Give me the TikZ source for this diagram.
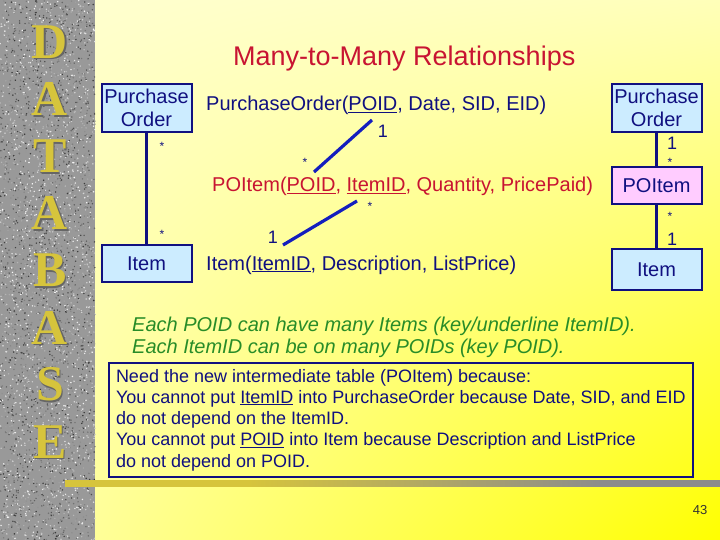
\documentclass[tikz,border=0pt]{standalone}
\usepackage{fontspec}
\setmainfont{Liberation Sans}
\newfontfamily\letterfont{Liberation Serif}
\usetikzlibrary{positioning,shadings}
\definecolor{navyText}{RGB}{16,16,128}
\definecolor{titleRed}{RGB}{200,20,50}
\definecolor{noteGreen}{RGB}{40,140,40}
\definecolor{boxBlue}{RGB}{204,236,255}
\definecolor{boxPink}{RGB}{255,204,255}
\definecolor{linkBlue}{RGB}{20,30,190}
\definecolor{goldLetter}{RGB}{214,196,60}
\definecolor{ruleGray}{RGB}{140,140,140}
\definecolor{bgUL}{RGB}{255,255,210}
\definecolor{bgUR}{RGB}{255,255,185}
\definecolor{bgLL}{RGB}{255,255,175}
\definecolor{bgLR}{RGB}{255,255,0}
\pgfdeclarehorizontalshading{ruleshade}{100bp}{color(0bp)=(goldLetter); color(39bp)=(goldLetter);
  color(66bp)=(ruleGray); color(100bp)=(ruleGray)}
\newcommand{\sz}[2]{\fontsize{#1}{#2}\selectfont}
\newcommand{\keyattr}[1]{\setbox0\hbox{#1}\rlap{\rule[-2pt]{\wd0}{1.3pt}}\box0\relax}

\begin{document}
\begin{tikzpicture}[x=1pt, y=-1pt]
  \tikzset{
    entity/.style={draw=navyText, line width=2pt, fill=boxBlue, text=navyText,
      align=center, font=\sz{20}{23}, minimum width=90pt, inner sep=0pt},
    rel/.style={anchor=base west, inner sep=0pt, font=\sz{20}{23}, text=navyText},
    link/.style={draw=navyText, line width=2.5pt},
    fk/.style={draw=linkBlue, line width=3.2pt},
    many/.style={font=\sz{12}{12}, text=navyText, inner sep=0pt},
    one/.style={font=\sz{18}{18}, text=navyText, inner sep=0pt},
    letter/.style={font=\letterfont\bfseries\sz{50}{50}, inner sep=0pt}
  }
  \useasboundingbox (0,0) rectangle (720,540);
  % background
  \shade[upper left=bgUL, upper right=bgUR, lower left=bgLL, lower right=bgLR]
    (0,0) rectangle (720,540);
  % granite strip
  \fill[black!40] (0,0) rectangle (95,540);
  \pgfmathsetseed{7}
  \foreach \i in {1,...,4000}{
    \pgfmathsetmacro\gx{95*rnd}
    \pgfmathsetmacro\gy{540*rnd}
    \pgfmathsetmacro\gs{80*rnd}
    \fill[black!\gs] (\gx,\gy) circle[radius=0.8];
  }
  \foreach \ch [count=\k] in {D,A,T,A,B,A,S,E}{
    \node[letter, text=black!60] at ({51.5},{43.5+57.1*(\k-1)}) {\ch};
    \node[letter, text=goldLetter] (L-\k) at ({50},{42+57.1*(\k-1)}) {\ch};
  }
  % rule
  \shade[shading=ruleshade] (65,480) rectangle (720,486);

  \node[font=\sz{27}{27}, text=titleRed, anchor=base west, inner sep=0pt] (title) at (233,66) {Many-to-Many Relationships};

  % left model
  \node[entity, minimum height=48pt] (PO-1) at (146.5,108) {Purchase\\Order};
  \node[entity, minimum height=37pt] (Item-1) at (146.5,263.5) {Item};
  \draw[link] (PO-1) -- (Item-1);
  \node[many] (m-1-1) at (162,146) {*};
  \node[many] (m-1-2) at (162,234) {*};

  % relations
  \node[rel] (rel-PO) at (206,111) {PurchaseOrder(\keyattr{POID}, Date, SID, EID)};
  \node[rel, text=titleRed] (rel-POItem) at (212,192) {POItem(\keyattr{POID}, \keyattr{ItemID}, Quantity, PricePaid)};
  \node[rel] (rel-Item) at (206,270) {Item(\keyattr{ItemID}, Description, ListPrice)};
  \coordinate (fk-PO-a) at (372,120);
  \coordinate (fk-PO-b) at (314,172);
  \coordinate (fk-Item-a) at (357,201);
  \coordinate (fk-Item-b) at (283,245);
  \draw[fk] (fk-PO-a) -- (fk-PO-b);
  \draw[fk] (fk-Item-a) -- (fk-Item-b);
  \node[one] (o-fk-1) at (383,131) {1};
  \node[many] (m-fk-1) at (305,162) {*};
  \node[many] (m-fk-2) at (370,206) {*};
  \node[one] (o-fk-2) at (273,237) {1};

  % right model
  \node[entity, minimum height=48pt] (PO-2) at (656.5,108) {Purchase\\Order};
  \node[entity, fill=boxPink, minimum height=37pt] (POItem-2) at (656.5,185.5) {POItem};
  \node[entity, minimum height=41pt] (Item-2) at (656.5,269.5) {Item};
  \draw[link] (PO-2) -- (POItem-2);
  \draw[link] (POItem-2) -- (Item-2);
  \node[one] (o-2-1) at (672,143) {1};
  \node[many] (m-2-1) at (670,162) {*};
  \node[many] (m-2-2) at (670,216) {*};
  \node[one] (o-2-2) at (672,239) {1};

  % notes
  \node[rel, text=noteGreen, font=\sz{20}{23}\itshape] (each-1) at (132,331) {Each POID can have many Items (key/underline ItemID).};
  \node[rel, text=noteGreen, font=\sz{20}{23}\itshape] (each-2) at (132,353) {Each ItemID can be on many POIDs (key POID).};
  \node[draw=navyText, line width=2pt, text=navyText, fill=none, anchor=north west,
    font=\sz{18}{21.3}, align=left, inner xsep=7pt, inner ysep=0pt,
    minimum height=114pt] (why) at (108,362)
    {Need the new intermediate table (POItem) because:\\
     You cannot put \keyattr{ItemID} into PurchaseOrder because Date, SID, and EID\\
     do not depend on the ItemID.\\
     You cannot put \keyattr{POID} into Item because Description and ListPrice\\
     do not depend on POID.};

  \node[font=\sz{13}{13}, text=black!80, inner sep=0pt] (page) at (700,510) {43};
\end{tikzpicture}
\end{document}
